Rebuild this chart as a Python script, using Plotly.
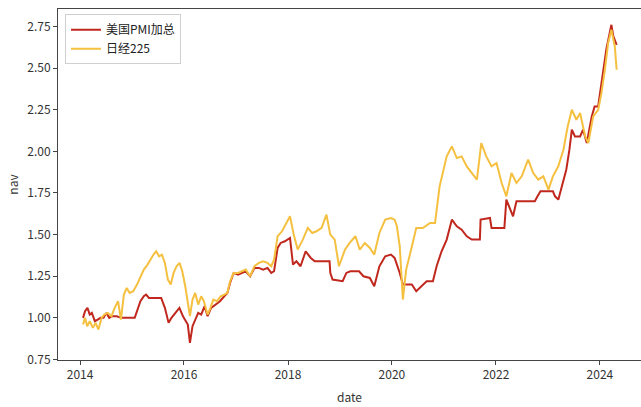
import plotly.graph_objects as go

# 日经225 (yellow)
nk_dates = ["2014-01-22","2014-02-05","2014-02-20","2014-03-10","2014-04-01","2014-04-20","2014-05-10","2014-06-01",
"2014-06-20","2014-07-15","2014-08-10","2014-09-01","2014-09-25","2014-10-15","2014-11-05","2014-11-25","2014-12-15",
"2015-01-10","2015-02-05","2015-03-01","2015-03-25","2015-04-20","2015-05-10","2015-06-01","2015-06-20","2015-07-10",
"2015-07-30","2015-08-20","2015-09-10","2015-09-30","2015-10-20","2015-11-10","2015-12-01","2015-12-20","2016-01-10",
"2016-01-25","2016-02-12","2016-03-01","2016-03-20","2016-04-10","2016-05-01","2016-05-20","2016-06-15","2016-07-05",
"2016-07-25","2016-08-20","2016-09-15","2016-10-10","2016-11-01","2016-11-20","2016-12-15","2017-01-15","2017-02-10",
"2017-03-10","2017-04-10","2017-05-10","2017-06-10","2017-07-10","2017-08-10","2017-09-05","2017-09-25","2017-10-20",
"2017-11-20","2017-12-20","2018-01-15","2018-02-10","2018-03-10","2018-04-15","2018-05-20","2018-06-20","2018-07-20",
"2018-08-25","2018-09-28","2018-10-25","2018-11-25","2018-12-25","2019-02-05","2019-03-10","2019-04-20","2019-05-20",
"2019-06-25","2019-07-30","2019-08-30","2019-10-05","2019-11-15","2019-12-25","2020-01-20","2020-02-05","2020-02-25",
"2020-03-18","2020-04-10","2020-05-15","2020-06-20","2020-08-05","2020-09-25","2020-10-30","2020-12-01","2021-01-20",
"2021-02-25","2021-04-01","2021-05-05","2021-06-10","2021-07-15","2021-08-20","2021-09-20","2021-10-25","2021-12-01",
"2022-01-05","2022-02-10","2022-03-15","2022-04-20","2022-05-25","2022-07-01","2022-08-15","2022-09-20","2022-10-25",
"2022-11-30","2023-01-05","2023-02-05","2023-03-15","2023-04-20","2023-05-20","2023-06-18","2023-07-20","2023-08-15",
"2023-09-20","2023-10-12","2023-11-15","2023-12-20","2024-01-12","2024-02-05","2024-02-28","2024-03-22","2024-04-15",
"2024-04-28"]
nk_nav = [0.96,1.00,0.95,0.98,0.94,0.97,0.93,1.00,
1.02,1.03,1.01,1.06,1.10,0.99,1.14,1.18,1.15,
1.16,1.20,1.24,1.29,1.32,1.35,1.38,1.40,1.37,
1.38,1.33,1.23,1.20,1.27,1.31,1.33,1.28,1.19,
1.10,1.01,1.11,1.15,1.08,1.13,1.10,1.02,1.06,
1.11,1.10,1.13,1.14,1.15,1.22,1.27,1.27,1.28,
1.29,1.25,1.31,1.33,1.34,1.33,1.31,1.35,1.49,
1.52,1.57,1.61,1.50,1.41,1.47,1.54,1.51,1.52,
1.54,1.62,1.50,1.47,1.31,1.41,1.45,1.49,1.41,
1.45,1.42,1.38,1.51,1.59,1.60,1.59,1.55,1.43,
1.11,1.29,1.41,1.54,1.54,1.57,1.57,1.79,1.97,
2.03,1.96,1.97,1.91,1.87,1.83,2.05,1.97,1.91,
1.93,1.81,1.73,1.87,1.81,1.85,1.95,1.87,1.83,
1.85,1.77,1.85,1.91,2.01,2.15,2.25,2.19,2.23,
2.09,2.05,2.21,2.25,2.35,2.49,2.65,2.73,2.63,
2.49]

# 美国PMI加总 (red)
pmi_dates = ["2014-01-22","2014-02-05","2014-02-22","2014-03-10","2014-03-25","2014-04-15","2014-05-05","2014-05-25",
"2014-06-15","2014-07-05","2014-07-25","2014-08-15","2014-09-15","2014-10-20","2015-01-20","2015-02-10","2015-03-01",
"2015-03-25","2015-04-10","2015-04-30","2015-07-25","2015-08-20","2015-09-15","2015-10-05","2015-10-30","2015-11-30",
"2015-12-25","2016-01-10","2016-01-28","2016-02-12","2016-03-01","2016-04-10","2016-05-01","2016-05-25","2016-06-15",
"2016-07-10","2016-08-10","2016-09-10","2016-10-10","2016-11-01","2016-11-20","2016-12-15","2017-01-15","2017-02-10",
"2017-03-10","2017-04-10","2017-05-10","2017-06-10","2017-07-10","2017-08-10","2017-09-05","2017-09-25","2017-10-20",
"2017-11-10","2017-12-10","2018-01-15","2018-02-05","2018-03-01","2018-03-30","2018-05-05","2018-06-10","2018-07-08",
"2018-10-20","2018-10-25","2018-11-10","2019-01-20","2019-02-15","2019-03-15","2019-05-15","2019-06-15","2019-07-30",
"2019-08-30","2019-10-05","2019-11-15","2019-12-25","2020-01-20","2020-02-05","2020-02-25","2020-03-18","2020-05-20",
"2020-06-20","2020-07-15","2020-09-01","2020-10-15","2020-11-10","2020-12-15","2021-01-20","2021-02-25","2021-04-01",
"2021-05-05","2021-06-10","2021-07-15","2021-09-10","2021-09-15","2021-11-20","2021-12-01","2022-03-01","2022-03-15",
"2022-04-10","2022-05-01","2022-05-25","2022-10-01","2022-10-20","2022-11-10","2023-02-05","2023-02-20","2023-03-15",
"2023-04-10","2023-05-10","2023-06-01","2023-06-18","2023-07-10","2023-08-15","2023-09-05","2023-10-01","2023-11-05",
"2023-11-25","2023-12-20","2024-01-25","2024-02-15","2024-03-22","2024-04-05","2024-04-28"]
pmi_nav = [1.00,1.04,1.06,1.02,1.03,0.98,0.99,1.00,
1.00,1.03,1.00,1.01,1.01,1.00,1.00,1.06,1.10,
1.13,1.14,1.12,1.12,1.06,0.97,1.00,1.03,1.06,
1.01,0.99,0.96,0.85,0.95,1.03,1.02,1.07,1.01,
1.06,1.08,1.10,1.13,1.15,1.21,1.27,1.26,1.27,
1.28,1.25,1.30,1.30,1.29,1.30,1.27,1.28,1.42,
1.45,1.46,1.48,1.32,1.34,1.31,1.40,1.36,1.34,
1.34,1.27,1.23,1.22,1.27,1.28,1.28,1.25,1.24,
1.19,1.31,1.37,1.38,1.36,1.32,1.27,1.20,1.20,
1.16,1.18,1.22,1.22,1.31,1.40,1.47,1.59,1.55,
1.53,1.49,1.47,1.47,1.59,1.60,1.54,1.54,1.71,
1.65,1.61,1.70,1.70,1.73,1.76,1.76,1.73,1.71,
1.79,1.89,2.01,2.13,2.09,2.09,2.13,2.05,2.21,
2.27,2.27,2.47,2.61,2.76,2.69,2.64]

RED = "#c0281e"
YEL = "#f5c040"
FONT = "Noto Sans CJK SC"

fig = go.Figure()
fig.add_trace(go.Scatter(x=pmi_dates, y=pmi_nav, mode="lines", name="美国PMI加总",
                         line=dict(color=RED, width=2)))
fig.add_trace(go.Scatter(x=nk_dates, y=nk_nav, mode="lines", name="日经225",
                         line=dict(color=YEL, width=2)))

fig.update_layout(
    width=641, height=407,
    margin=dict(l=58, r=0, t=9, b=47),
    paper_bgcolor="white", plot_bgcolor="white",
    font=dict(family=FONT, size=12, color="#333"),
    showlegend=True,
    legend=dict(x=0.012, y=0.985, xanchor="left", yanchor="top",
                bgcolor="rgba(255,255,255,0.9)", bordercolor="#d0d0d0", borderwidth=1,
                font=dict(family=FONT, size=12, color="#222"),
                tracegroupgap=0, itemwidth=30),
)
fig.update_xaxes(
    type="date", range=["2013-07-30", "2024-10-16"],
    dtick="M24", tick0="2014-01-01", tickformat="%Y",
    showgrid=False, zeroline=False,
    showline=True, linecolor="#444", linewidth=1, mirror=True,
    ticks="outside", ticklen=4, tickcolor="#444",
    title=dict(text="date", font=dict(family=FONT, size=12, color="#333"), standoff=12),
)
fig.update_yaxes(
    range=[0.747, 2.855], dtick=0.25, tick0=0.75, tickformat=".2f",
    showgrid=False, zeroline=False,
    showline=True, linecolor="#444", linewidth=1, mirror=False,
    ticks="outside", ticklen=4, tickcolor="#444",
    title=dict(text="nav", font=dict(family=FONT, size=12, color="#333"), standoff=6),
)

fig.write_html("out.html", config={"displayModeBar": False},
               post_script="document.body.style.margin='0';document.body.style.overflow='hidden';")
